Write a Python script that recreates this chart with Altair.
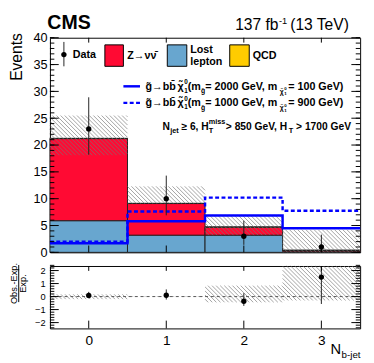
import altair as alt
import pandas as pd
import numpy as np

FONT = "Liberation Sans"

# ---------------- data ----------------
n_bjet = [0, 1, 2, 3]
lost_lepton = [5.9, 3.2, 3.2, 0.12]
z_nunu = [15.3, 5.9, 1.5, 0.25]
qcd = [0.05, 0.04, 0.02, 0.02]
data_obs = [23, 10, 3, 1]
data_err_up = [5.9, 4.3, 2.9, 2.3]
data_err_dn = [4.8, 3.1, 1.6, 0.8]
bkg_unc_lo = [18.1, 9.1, 3.2, 0.0]
bkg_unc_hi = [25.5, 12.3, 7.0, 4.2]
sig_2000_100 = [1.7, 5.8, 6.85, 4.5]
sig_1000_900 = [2.0, 7.6, 10.2, 7.75]
ratio = [0.09, 0.10, -0.36, 1.5]
ratio_err_up = [0.27, 0.45, 0.62, 5.7]
ratio_err_dn = [0.23, 0.33, 0.36, 2.07]
ratio_unc_lo = [-0.2, -0.03, -0.44, -0.3]
ratio_unc_hi = [0.17, 0.03, 0.84, 3.0]

top_major = [0, 5, 10, 15, 20, 25, 30, 35, 40]
top_minor = list(range(0, 41))
ratio_major = [-2, -1, 0, 1, 2]
ratio_minor = [round(-2.4 + 0.2 * i, 1) for i in range(25)]
x_ticks = [0, 1, 2, 3]

comp_names = ["Lost lepton", "Z", "QCD"]
comp_colors = ["#68a6cf", "#ff0a33", "#ffcc00"]

# ---------------- layout ----------------
W = 318
H_TOP = 220
H_RAT = 64
X_DOM = [-0.5, 3.5]
Y_TOP = [0, 40]
Y_RAT = [-2.45, 2.35]

# ---------------- derived tables ----------------
stack_rows = []
for i, b in enumerate(n_bjet):
    base = 0.0
    for name, vals in zip(comp_names, [lost_lepton, z_nunu, qcd]):
        stack_rows.append(dict(x=b - 0.5, x2=b + 0.5, y=base, y2=base + vals[i], comp=name))
        base += vals[i]
stack_df = pd.DataFrame(stack_rows)

edges = [b - 0.5 for b in n_bjet] + [n_bjet[-1] + 0.5]
sig1_df = pd.DataFrame({"x": edges, "y": sig_2000_100 + [sig_2000_100[-1]]})
sig2_df = pd.DataFrame({"x": edges, "y": sig_1000_900 + [sig_1000_900[-1]]})

data_df = pd.DataFrame({
    "x": n_bjet, "y": data_obs,
    "lo": [v - d for v, d in zip(data_obs, data_err_dn)],
    "hi": [v + u for v, u in zip(data_obs, data_err_up)],
})
ratio_df = pd.DataFrame({
    "x": n_bjet, "y": ratio,
    "lo": [v - d for v, d in zip(ratio, ratio_err_dn)],
    "hi": [min(v + u, Y_RAT[1]) for v, u in zip(ratio, ratio_err_up)],
})


def hatch_segments(lo, hi, ydom, height, spacing=4.2):
    sx = W / (X_DOM[1] - X_DOM[0])
    sy = height / (ydom[1] - ydom[0])
    rows = []
    for b, l, h in zip(n_bjet, lo, hi):
        l = max(l, ydom[0])
        h = min(h, ydom[1])
        if h <= l:
            continue
        u0 = (b - 0.5 - X_DOM[0]) * sx
        u1 = (b + 0.5 - X_DOM[0]) * sx
        v0 = (l - ydom[0]) * sy
        v1 = (h - ydom[0]) * sy
        k0 = int(np.ceil((u0 + v0) / spacing))
        k1 = int(np.floor((u1 + v1) / spacing))
        for k in range(k0, k1 + 1):
            c = k * spacing
            ua = max(u0, c - v1)
            ub = min(u1, c - v0)
            if ub - ua < 0.5:
                continue
            rows.append(dict(x=ua / sx + X_DOM[0], y=(c - ua) / sy + ydom[0],
                             x2=ub / sx + X_DOM[0], y2=(c - ub) / sy + ydom[0]))
    return pd.DataFrame(rows)


hatch_top = hatch_segments(bkg_unc_lo, bkg_unc_hi, Y_TOP, H_TOP)
hatch_rat = hatch_segments(ratio_unc_lo, ratio_unc_hi, Y_RAT, H_RAT)

# ---------------- encodings helpers ----------------
xs = alt.Scale(domain=X_DOM, nice=False, zero=False)
ys_top = alt.Scale(domain=Y_TOP, nice=False, zero=False)
ys_rat = alt.Scale(domain=Y_RAT, nice=False, zero=False)

ax_top_y = alt.Axis(values=top_major, domain=False, ticks=False, grid=False,
                    labelFont=FONT, labelFontSize=13, labelPadding=3, labelColor="black",
                    title=None)
ax_rat_y = alt.Axis(values=ratio_major, domain=False, ticks=False, grid=False,
                    labelFont=FONT, labelFontSize=9.5, labelPadding=5, labelColor="black",
                    title=None, format="d")
ax_rat_x = alt.Axis(values=x_ticks, domain=False, ticks=False, grid=False,
                    labelFont=FONT, labelFontSize=14, labelPadding=5, labelColor="black",
                    title=None, format="d")


def XT(field):
    return alt.X(field, type="quantitative", scale=xs, axis=None)


def YT(field):
    return alt.Y(field, type="quantitative", scale=ys_top, axis=ax_top_y)


def XR(field):
    return alt.X(field, type="quantitative", scale=xs, axis=ax_rat_x)


def YR(field):
    return alt.Y(field, type="quantitative", scale=ys_rat, axis=ax_rat_y)


one = pd.DataFrame({"k": [0]})

# offsets of plot areas in page coordinates (for annotation placement)
OX, OY_TOP, OY_RAT = 48.7, 32.7, 263.0


def txt(s, px, py, size=11, weight="bold", align="left", baseline="alphabetic",
        angle=0, oy=OY_TOP):
    kw = dict(text=s, fontSize=size, fontWeight=weight, align=align, baseline=baseline,
              font=FONT, color="black")
    if angle:
        kw["angle"] = angle
    return alt.Chart(one).mark_text(**kw).encode(x=alt.value(px - OX), y=alt.value(py - oy))


def box(px0, px1, py0, py1, color, oy=OY_TOP):
    return alt.Chart(one).mark_rect(fill=color, stroke="black", strokeWidth=1).encode(
        x=alt.value(px0 - OX), x2=alt.value(px1 - OX), y=alt.value(py0 - oy), y2=alt.value(py1 - oy))


def seg(px0, px1, py0, py1, color="black", width=1.0, dash=None, oy=OY_TOP):
    kw = dict(color=color, strokeWidth=width)
    if dash:
        kw["strokeDash"] = dash
    return alt.Chart(one).mark_rule(**kw).encode(
        x=alt.value(px0 - OX), x2=alt.value(px1 - OX), y=alt.value(py0 - oy), y2=alt.value(py1 - oy))


# ---------------- top panel ----------------
stack = alt.Chart(stack_df).mark_rect(stroke="#222", strokeWidth=1).encode(
    x=XT("x"), x2="x2", y=YT("y"), y2="y2",
    fill=alt.Fill("comp:N", scale=alt.Scale(domain=comp_names, range=comp_colors), legend=None),
)
hatch1 = alt.Chart(hatch_top).mark_rule(color="#777", strokeWidth=0.8, opacity=0.85).encode(
    x=XT("x"), x2="x2", y=YT("y"), y2="y2")
sig1 = alt.Chart(sig1_df).mark_line(interpolate="step-after", color="#0000ff", strokeWidth=2.5).encode(
    x=XT("x"), y=YT("y"))
sig2 = alt.Chart(sig2_df).mark_line(interpolate="step-after", color="#0000ff", strokeWidth=2.5,
                                    strokeDash=[4, 2.5]).encode(x=XT("x"), y=YT("y"))
derr = alt.Chart(data_df).mark_rule(color="#222", strokeWidth=1).encode(
    x=XT("x"), y=YT("lo"), y2="hi")
dpts = alt.Chart(data_df).mark_point(filled=True, color="black", size=30, opacity=1).encode(
    x=XT("x"), y=YT("y"))

ttop_maj = pd.DataFrame({"y": top_major})
ttop_min = pd.DataFrame({"y": top_minor})
tx = pd.DataFrame({"x": x_ticks})
ticks_top = [
    alt.Chart(ttop_maj).mark_rule(color="black").encode(y=YT("y"), x=alt.value(0), x2=alt.value(9)),
    alt.Chart(ttop_maj).mark_rule(color="black").encode(y=YT("y"), x=alt.value(W), x2=alt.value(W - 9)),
    alt.Chart(ttop_min).mark_rule(color="black").encode(y=YT("y"), x=alt.value(0), x2=alt.value(4.5)),
    alt.Chart(ttop_min).mark_rule(color="black").encode(y=YT("y"), x=alt.value(W), x2=alt.value(W - 4.5)),
    alt.Chart(tx).mark_rule(color="black").encode(x=XT("x"), y=alt.value(H_TOP), y2=alt.value(H_TOP - 7)),
    alt.Chart(tx).mark_rule(color="black").encode(x=XT("x"), y=alt.value(0), y2=alt.value(5)),
]

ann_top = [
    # header
    txt("CMS", 46, 8, size=20, baseline="top"),
    txt("137 fb", 283, 25, size=16, weight="normal", align="right"),
    txt("-1", 283.5, 18.5, size=9.5, weight="normal"),
    txt("(13 TeV)", 295, 25, size=16, weight="normal"),
    # y title
    txt("Events", 15.5, 28, size=16, weight="normal", align="right", baseline="middle", angle=270),
    # legend row 1
    seg(63, 63, 37, 62, color="#222"),
    alt.Chart(one).mark_point(filled=True, color="black", size=30, opacity=1).encode(
        x=alt.value(63 - OX), y=alt.value(50 - OY_TOP)),
    txt("Data", 72, 50, baseline="middle"),
    box(105, 124, 40, 62, comp_colors[1]),
    txt("Z\u2192\u03bd\u03bd\u0304", 128, 52, baseline="middle"),
    box(169, 189, 40, 62, comp_colors[0]),
    txt("Lost", 192.5, 45.5, baseline="middle"),
    txt("lepton", 192.5, 58, baseline="middle"),
    box(233, 253, 40, 62, comp_colors[2]),
    txt("QCD", 256.5, 52, baseline="middle"),
    # legend signal lines
    seg(124, 141, 82.5, 82.5, color="#0000ff", width=2.5),
    seg(124, 141, 99.5, 99.5, color="#0000ff", width=2.5, dash=[4, 2.5]),
]
for dy, m1, m2 in [(0, "= 2000 GeV, m", "= 100 GeV)"), (17, "= 1000 GeV, m", "= 900 GeV)")]:
    b = 86 + dy
    ann_top += [
        txt("g\u0303\u2192bb\u0304", 146.7, b),
        txt("\u03c7\u0303", 179.5, b),
        txt("0", 186.5, b - 5.5, size=6.5),
        txt("1", 186.5, b + 3, size=6.5),
        txt("(m", 190, b),
        txt("g\u0303", 203.5, b + 3.5, size=7),
        txt(m1, 208, b),
        txt("\u03c7\u0303", 284.3, b + 4, size=7),
        txt("0", 289, b + 0.5, size=4.5),
        txt("1", 289, b + 5.5, size=4.5),
        txt(m2, 293, b),
    ]
b4 = 127.5
ann_top += [
    txt("N", 164, b4, size=10.5),
    txt("jet", 172, b4 + 3, size=7.5),
    txt("\u2265 6, H", 183.5, b4, size=10.5),
    txt("miss", 211.5, b4 - 6, size=7.5),
    txt("T", 211.5, b4 + 3, size=7.5),
    txt("> 850 GeV, H", 229, b4, size=10.5),
    txt("T", 293.5, b4 + 3, size=7.5),
    txt("> 1700 GeV", 301, b4, size=10.5),
]

top = alt.layer(stack, hatch1, sig2, sig1, derr, dpts, *ticks_top, *ann_top).properties(
    width=W, height=H_TOP)

# ---------------- ratio panel ----------------
zero_df = pd.DataFrame({"y": [0]})
zline = alt.Chart(zero_df).mark_rule(color="#555", strokeWidth=1, strokeDash=[3, 3]).encode(
    y=YR("y"))
hatch2 = alt.Chart(hatch_rat).mark_rule(color="#777", strokeWidth=0.8, opacity=0.85).encode(
    x=XR("x"), x2="x2", y=YR("y"), y2="y2")
rerr = alt.Chart(ratio_df).mark_rule(color="#222", strokeWidth=1, clip=True).encode(
    x=XR("x"), y=YR("lo"), y2="hi")
rpts = alt.Chart(ratio_df).mark_point(filled=True, color="black", size=30, opacity=1).encode(
    x=XR("x"), y=YR("y"))

trat_maj = pd.DataFrame({"y": ratio_major})
trat_min = pd.DataFrame({"y": ratio_minor})
ticks_rat = [
    alt.Chart(trat_maj).mark_rule(color="black").encode(y=YR("y"), x=alt.value(0), x2=alt.value(9)),
    alt.Chart(trat_maj).mark_rule(color="black").encode(y=YR("y"), x=alt.value(W), x2=alt.value(W - 9)),
    alt.Chart(trat_min).mark_rule(color="black").encode(y=YR("y"), x=alt.value(0), x2=alt.value(4.5)),
    alt.Chart(trat_min).mark_rule(color="black").encode(y=YR("y"), x=alt.value(W), x2=alt.value(W - 4.5)),
    alt.Chart(tx).mark_rule(color="black").encode(x=XR("x"), y=alt.value(H_RAT), y2=alt.value(H_RAT - 8)),
    alt.Chart(tx).mark_rule(color="black").encode(x=XR("x"), y=alt.value(0), y2=alt.value(5)),
]
ann_rat = [
    txt("Obs.-Exp.", 11.7, 281, size=9.5, weight="normal", align="center", baseline="middle",
        angle=270, oy=OY_RAT),
    seg(16.7, 16.7, 262, 300, color="black", width=1, oy=OY_RAT),
    txt("Exp.", 21.2, 281, size=9.5, weight="normal", align="center", baseline="middle",
        angle=270, oy=OY_RAT),
    txt("N", 347.2, 353, size=15, weight="normal", align="right", oy=OY_RAT),
    txt("b-jet", 347.7, 357, size=10, weight="normal", oy=OY_RAT),
]

bottom = alt.layer(hatch2, zline, rerr, rpts, *ticks_rat, *ann_rat).properties(width=W, height=H_RAT)

chart = alt.vconcat(top, bottom, spacing=2).properties(padding=0).configure_view(
    stroke="black", strokeWidth=1)

chart.save("out.html", embed_options={"renderer": "svg", "actions": False})
